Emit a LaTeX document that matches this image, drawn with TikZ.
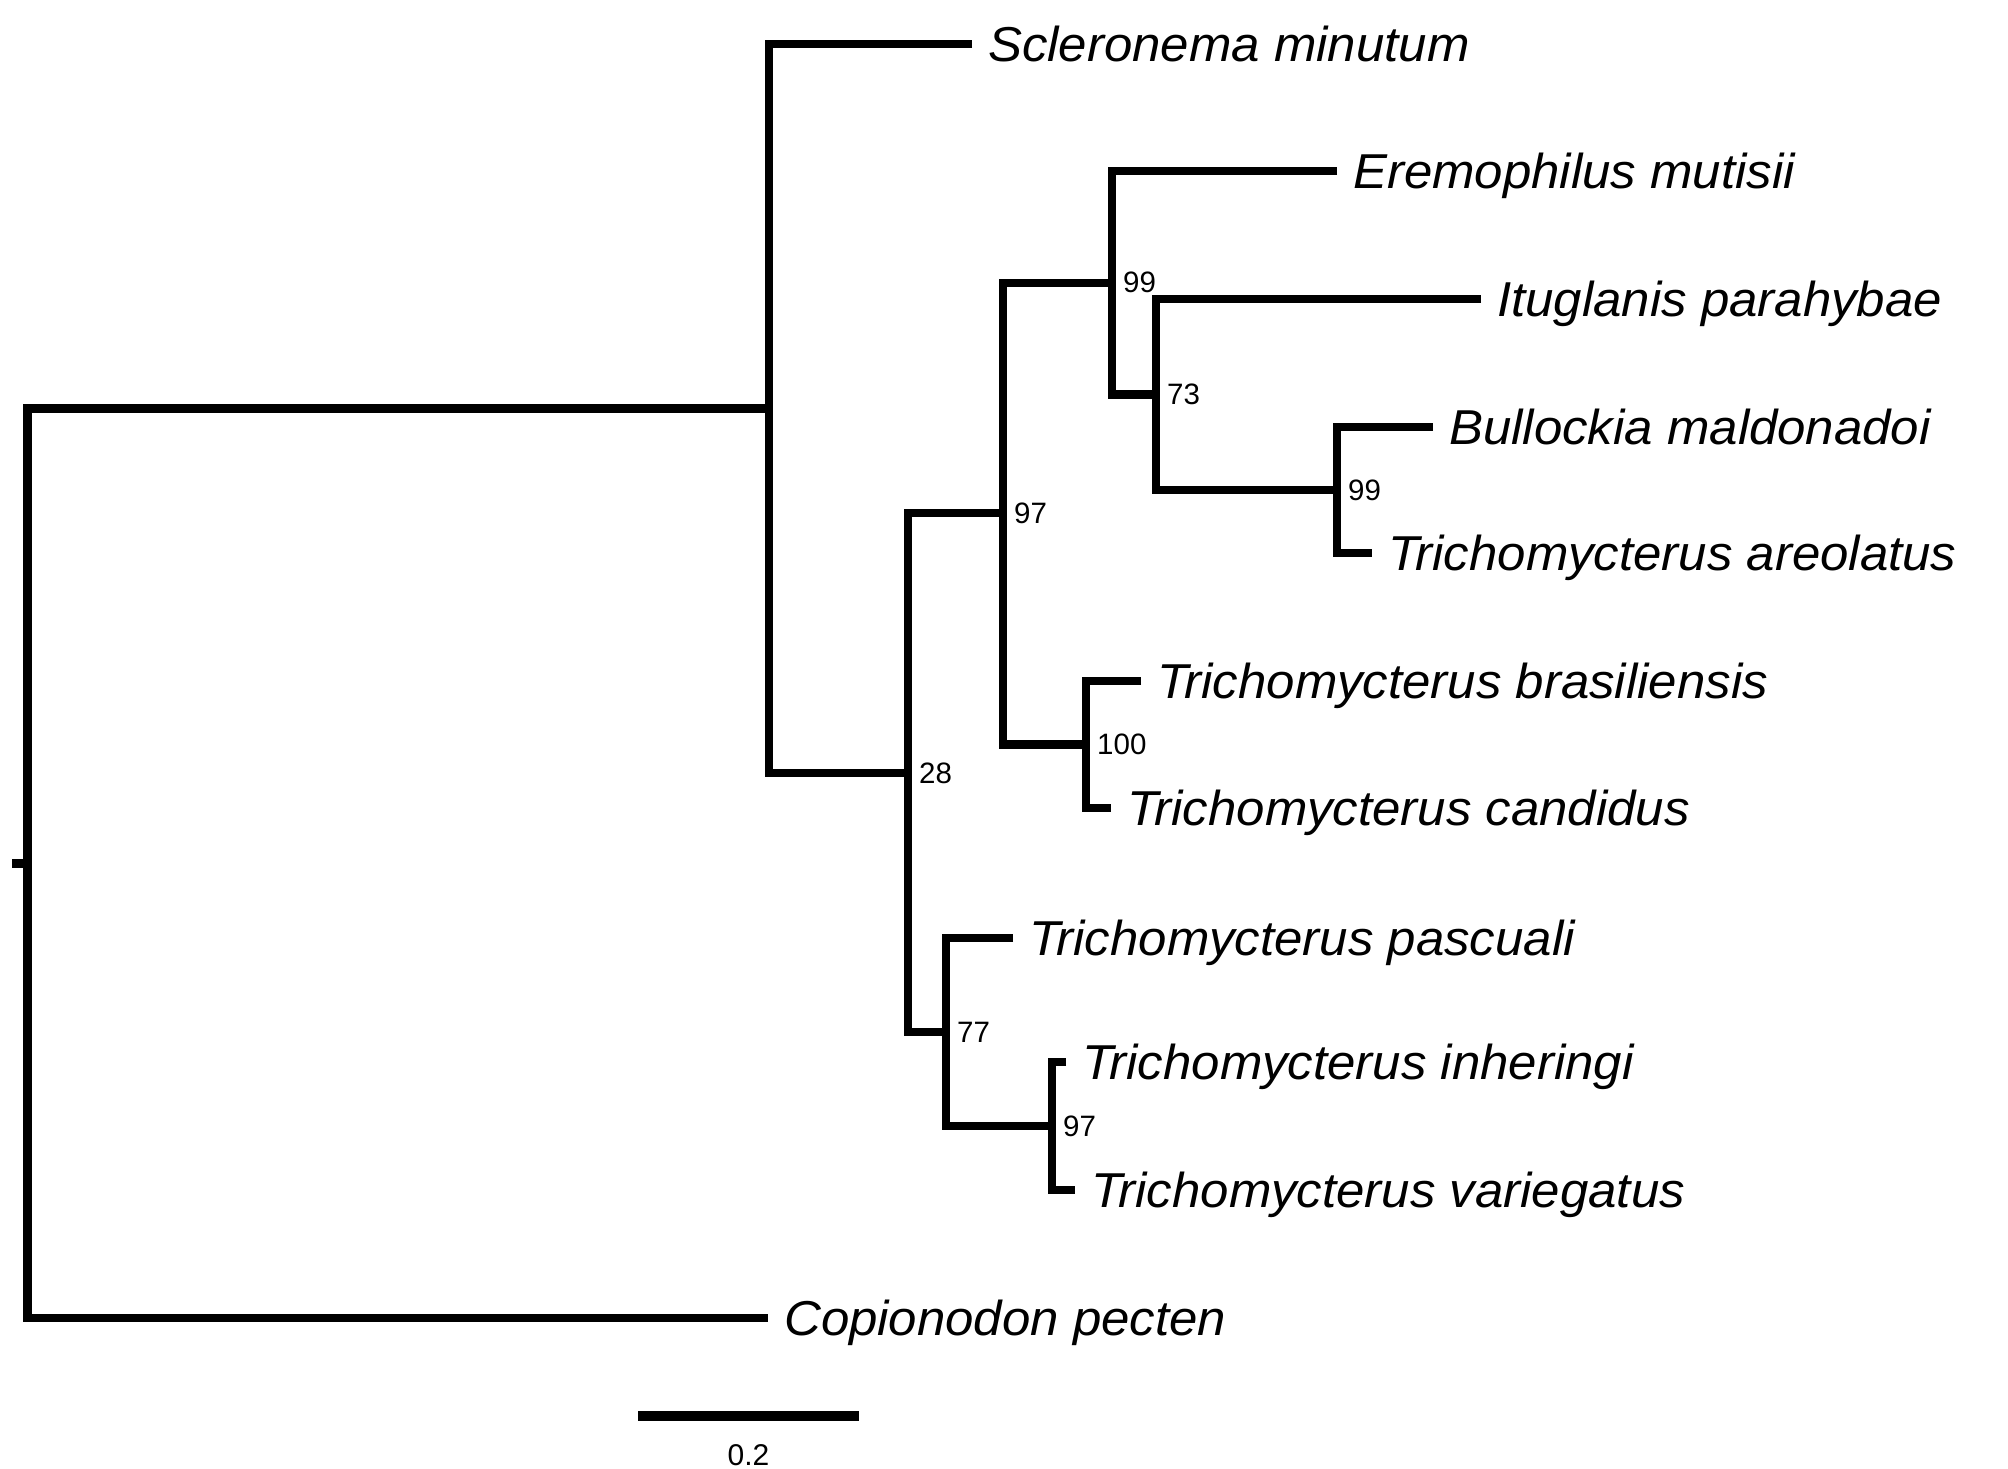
\documentclass[tikz,border=0pt]{standalone}
\usepackage{fontspec}
\setmainfont{Liberation Sans}
\newfontfamily\tipfont[FakeStretch=1.04]{Liberation Sans}
\tikzset{
  branch/.style={line width=8.5pt, line join=miter, line cap=butt},
  scalebar/.style={line width=10pt, line cap=butt},
  tiplabel/.style={anchor=base west, inner sep=0pt, xshift=16pt, yshift=-17.5pt,
    font=\tipfont\itshape\fontsize{49}{58}\selectfont},
  support/.style={anchor=west, inner sep=0pt, xshift=11pt,
    font=\fontsize{29.5}{34}\selectfont},
}
\begin{document}
\begin{tikzpicture}[x=1pt,y=-1pt]
\useasboundingbox (0,0) rectangle (2008,1469);
% internal nodes
\coordinate (nR)   at (27.5,863.25);
\coordinate (tick) at (12,863.25);
\coordinate (nS)   at (769,408.5);
\coordinate (n28)  at (908,773);
\coordinate (n97a) at (1003,513);
\coordinate (n99a) at (1112,282.75);
\coordinate (n73)  at (1156,394.5);
\coordinate (n99b) at (1337,490);
\coordinate (n100) at (1086,744.5);
\coordinate (n77)  at (946,1032);
\coordinate (n97b) at (1052,1126);
% tips
\coordinate (tScl) at (972,44);
\coordinate (tEre) at (1337,171);
\coordinate (tItu) at (1481,299);
\coordinate (tBul) at (1433,427);
\coordinate (tAre) at (1372,553);
\coordinate (tBra) at (1141,681);
\coordinate (tCan) at (1111,808);
\coordinate (tPas) at (1013,938);
\coordinate (tInh) at (1066,1062);
\coordinate (tVar) at (1075,1190);
\coordinate (tCop) at (768,1318);
% branches
\draw[branch] (tick) -- (nR);
\draw[branch] (nS) -| (nR) |- (tCop);
\draw[branch] (tScl) -| (nS) |- (n28);
\draw[branch] (n97a) -| (n28) |- (n77);
\draw[branch] (n99a) -| (n97a) |- (n100);
\draw[branch] (tEre) -| (n99a) |- (n73);
\draw[branch] (tItu) -| (n73) |- (n99b);
\draw[branch] (tBul) -| (n99b) |- (tAre);
\draw[branch] (tBra) -| (n100) |- (tCan);
\draw[branch] (tPas) -| (n77) |- (n97b);
\draw[branch] (tInh) -| (n97b) |- (tVar);
% tip labels
\node[tiplabel] (lScl) at (tScl) {Scleronema minutum};
\node[tiplabel] (lEre) at (tEre) {Eremophilus mutisii};
\node[tiplabel] (lItu) at (tItu) {Ituglanis parahybae};
\node[tiplabel] (lBul) at (tBul) {Bullockia maldonadoi};
\node[tiplabel] (lAre) at (tAre) {Trichomycterus areolatus};
\node[tiplabel] (lBra) at (tBra) {Trichomycterus brasiliensis};
\node[tiplabel] (lCan) at (tCan) {Trichomycterus candidus};
\node[tiplabel] (lPas) at (tPas) {Trichomycterus pascuali};
\node[tiplabel] (lInh) at (tInh) {Trichomycterus inheringi};
\node[tiplabel] (lVar) at (tVar) {Trichomycterus variegatus};
\node[tiplabel] (lCop) at (tCop) {Copionodon pecten};
% support values
\node[support] (s28)   at (n28)  {28};
\node[support] (s97a)  at (n97a) {97};
\node[support] (s99a)  at (n99a) {99};
\node[support] (s73)   at (n73)  {73};
\node[support] (s99b)  at (n99b) {99};
\node[support] (s100)  at (n100) {100};
\node[support] (s77)   at (n77)  {77};
\node[support] (s97b)  at (n97b) {97};
% scale bar
\coordinate (sbL) at (638,1416);
\coordinate (sbR) at (859,1416);
\draw[scalebar] (sbL) -- (sbR);
\node[inner sep=0pt, font=\fontsize{30}{34}\selectfont] (sbT) at (748.5,1455) {0.2};
\end{tikzpicture}
\end{document}
